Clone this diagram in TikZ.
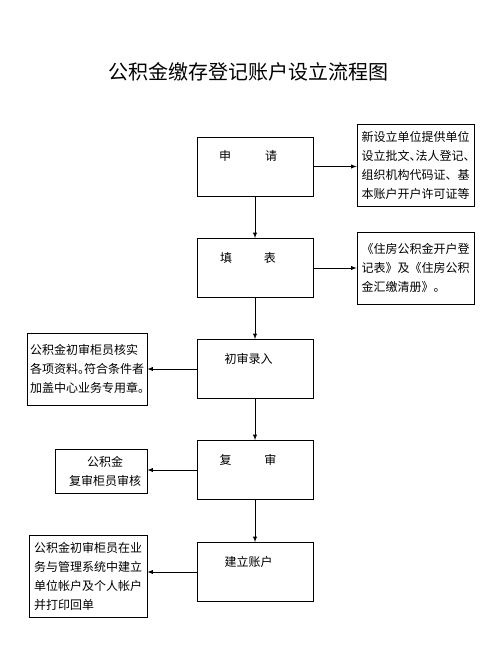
\documentclass[tikz,border=0pt]{standalone}
\usepackage{fontspec}
\setmainfont{Noto Sans CJK SC}
\newcommand{\halfp}[1]{\makebox[0.5em][l]{#1}} % compressed punctuation
\tikzset{
stepbox/.style={draw, line width=0.8pt, text width=116pt, inner xsep=0pt, inner ysep=0pt, align=left, text height=23.5pt, text depth=35.5pt, font=\fontsize{12}{19}\selectfont},
notebox/.style={draw, line width=0.8pt, inner sep=0pt, align=left, font=\fontsize{12}{19}\selectfont},
link/.style={-latex, line width=0.9pt},
}

\begin{document}
\begin{tikzpicture}[x=1pt, y=-1pt]
\useasboundingbox (0,0) rectangle (500,652);
\node [font=\fontsize{20}{24}\selectfont] (title) at (248,72) {公积金缴存登记账户设立流程图};

% main steps
\node [stepbox] (apply)  at (255,166.5) {\hspace*{22pt}申\hspace{34pt}请};
\node [stepbox] (form)   at (255,268)   {\hspace*{23pt}填\hspace{32pt}表};
\node [stepbox] (check)  at (255,369)   {\hspace*{27.5pt}初审录入};
\node [stepbox] (review) at (255,470)   {\hspace*{22.5pt}复\hspace{33pt}审};
\node [stepbox] (open)   at (255,572)   {\hspace*{27.5pt}建立账户};

% notes
\node [notebox, minimum width=117pt, minimum height=82pt] (docs) at (415.5,165)
    {新设立单位提供单位\\设立批文\halfp{、}法人登记\halfp{、}\\组织机构代码证、基\\本账户开户许可证等};
\node [notebox, minimum width=117pt, minimum height=72pt] (sheets) at (415.5,268)
    {《住房公积金开户登\\记表》及《住房公积\\金汇缴清册》。};
\node [notebox, minimum width=120pt, minimum height=72pt] (firstnote) at (87,369)
    {公积金初审柜员核实\\各项资料\halfp{。}符合条件者\\加盖中心业务专用章\halfp{。}};
\node [notebox, align=center, minimum width=92pt, minimum height=44pt] (reviewnote) at (101,471)
    {\hspace*{8pt}公积金\\\hspace*{8pt}复审柜员审核};
\node [notebox, minimum width=118pt, minimum height=82pt] (opennote) at (88,576)
    {公积金初审柜员在业\\务与管理系统中建立\\单位帐户及个人帐户\\并打印回单};

% connectors
\draw [link] (apply) -- (form);
\draw [link] (form) -- (check);
\draw [link] (check) -- (review);
\draw [link] (review) -- (open);
\draw [link] (apply.east) -- (apply.east -| docs.west);
\draw [link] (form.east) -- (form.east -| sheets.west);
\draw [link] (check.west) -- (check.west -| firstnote.east);
\draw [link] (review.west) -- (review.west -| reviewnote.east);
\draw [link] (open.west) -- (open.west -| opennote.east);
\end{tikzpicture}
\end{document}
